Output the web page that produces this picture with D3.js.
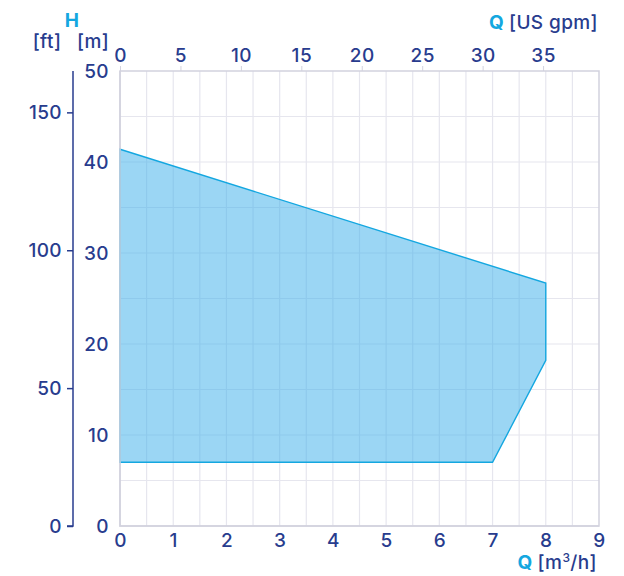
<!DOCTYPE html>
<html>
<head>
<meta charset="utf-8">
<script src="https://cdn.jsdelivr.net/npm/d3@7"></script>
<style>
  body { margin: 0; background: #fff; }
  svg { font-family: Inter, "Noto Sans", sans-serif; font-weight: 500; letter-spacing: 0.4px; }
</style>
</head>
<body>
<svg width="624" height="576"></svg>
<script>
// Данные: рабочая область насоса (Q в м3/ч, H в м)
const flowQ = [0, 8, 8, 7, 0];
const headH = [41.4, 26.7, 18.2, 7.0, 7.0];

// Подписи делений
const ticksQ = [0, 1, 2, 3, 4, 5, 6, 7, 8, 9];
const ticksGpm = [0, 5, 10, 15, 20, 25, 30, 35];
const ticksM = [0, 10, 20, 30, 40, 50];
const ticksFt = [0, 50, 100, 150];

const svg = d3.select("svg");
const navy = "#283c8e", cyan = "#14a7e0";
const fs = "19px";

// Область графика
const area = { left: 120, right: 599, top: 71, bottom: 526 };

const scX = d3.scaleLinear().domain([0, 9]).range([area.left, area.right]);
const scY = d3.scaleLinear().domain([0, 50]).range([area.bottom, area.top]);
const scGpm = d3.scaleLinear().domain([0, 9 * 4.403]).range([area.left, area.right]);
const scFt = d3.scaleLinear().domain([0, 165]).range([area.bottom, area.top]);

// Сетка
const grid = svg.append("g");
grid.selectAll(null)
    .data(d3.range(0.5, 9, 0.5))
    .enter().append("line")
    .attr("x1", d => scX(d)).attr("x2", d => scX(d))
    .attr("y1", area.top).attr("y2", area.bottom)
    .attr("stroke", "#e6e6ee").attr("stroke-width", 1.2);
grid.selectAll(null)
    .data(d3.range(5, 50, 5))
    .enter().append("line")
    .attr("y1", d => scY(d)).attr("y2", d => scY(d))
    .attr("x1", area.left).attr("x2", area.right)
    .attr("stroke", "#e6e6ee").attr("stroke-width", 1.2);

// Рамка
svg.append("rect")
    .attr("x", area.left).attr("y", area.top)
    .attr("width", area.right - area.left).attr("height", area.bottom - area.top)
    .attr("fill", "none").attr("stroke", "#d2d2de").attr("stroke-width", 1.5);

// Многоугольник рабочей области
const pts = flowQ.map((q, i) => [scX(q), scY(headH[i])]);
svg.append("path")
    .attr("d", d3.line()(pts) + "Z")
    .attr("fill", "#38ade9").attr("fill-opacity", 0.5)
    .attr("stroke", cyan).attr("stroke-width", 1.4);

// Повторно рисуем левую и нижнюю границы поверх заливки
svg.append("path")
    .attr("d", `M${area.left},${area.top}V${area.bottom}H${area.right}`)
    .attr("fill", "none").attr("stroke", "#d2d2de").attr("stroke-width", 1.5);

// Оси
const axisColor = g => {
    g.attr("font-family", null).attr("font-size", null);
    g.select(".domain").remove();
    g.selectAll("line").attr("stroke", "#d2d2de");
    g.selectAll("text").attr("fill", navy).style("font-size", fs);
};

svg.append("g")
    .attr("transform", `translate(0, ${area.bottom})`)
    .call(d3.axisBottom(scX).tickValues(ticksQ).tickSize(0).tickPadding(8))
    .call(axisColor);

svg.append("g")
    .attr("transform", `translate(0, ${area.top})`)
    .call(d3.axisTop(scGpm).tickValues(ticksGpm).tickSize(5).tickPadding(4))
    .call(axisColor);

svg.append("g")
    .attr("transform", `translate(${area.left}, 0)`)
    .call(d3.axisLeft(scY).tickValues(ticksM).tickSize(0).tickPadding(11))
    .call(axisColor)
    .selectAll("text").attr("dy", "0.35em");

// Ось в футах
const gFt = svg.append("g")
    .attr("transform", `translate(73, 0)`)
    .call(d3.axisLeft(scFt).tickValues(ticksFt).tickSize(6).tickPadding(5))
    .attr("font-family", null).attr("font-size", null);
gFt.select(".domain").attr("stroke", navy).attr("stroke-width", 1.5)
    .attr("d", `M0,${area.top}V${area.bottom}H-6`);
gFt.selectAll("line").attr("stroke", navy).attr("stroke-width", 1.5);
gFt.selectAll("text").attr("fill", navy).style("font-size", fs);

// Подписи осей
svg.append("text").attr("x", 72).attr("y", 27).attr("text-anchor", "middle")
    .attr("fill", cyan).attr("font-weight", "bold").style("font-size", fs).text("H");
svg.append("text").attr("x", 47).attr("y", 48).attr("text-anchor", "middle")
    .attr("fill", navy).style("font-size", fs).text("[ft]");
svg.append("text").attr("x", 93).attr("y", 48).attr("text-anchor", "middle")
    .attr("fill", navy).style("font-size", fs).text("[m]");

const topLbl = svg.append("text").attr("x", 598).attr("y", 29).attr("text-anchor", "end")
    .style("font-size", fs);
topLbl.append("tspan").attr("fill", cyan).attr("font-weight", "bold").text("Q ");
topLbl.append("tspan").attr("fill", navy).text("[US gpm]");

const botLbl = svg.append("text").attr("x", 597).attr("y", 569).attr("text-anchor", "end")
    .style("font-size", fs);
botLbl.append("tspan").attr("fill", cyan).attr("font-weight", "bold").text("Q ");
botLbl.append("tspan").attr("fill", navy).text("[m");
botLbl.append("tspan").attr("fill", navy).attr("dy", -7).style("font-size", "12px").text("3");
botLbl.append("tspan").attr("fill", navy).attr("dy", 7).text("/h]");
</script>
</body>
</html>
